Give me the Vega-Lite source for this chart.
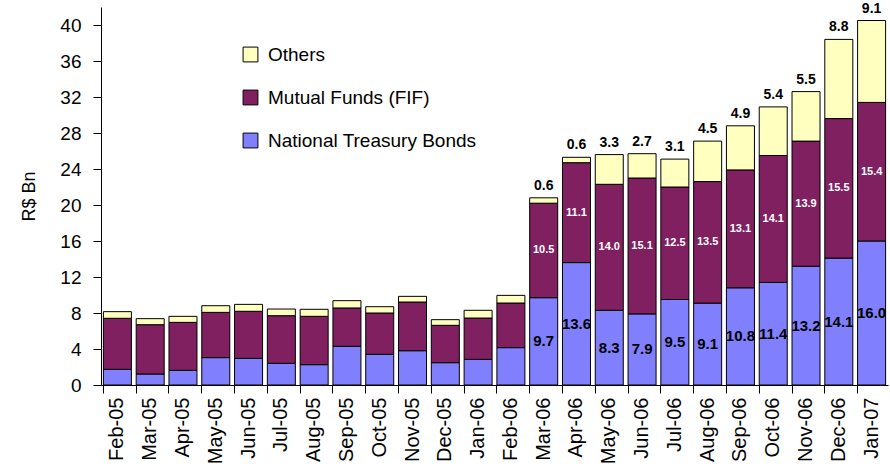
{
  "$schema": "https://vega.github.io/schema/vega-lite/v6.json",
  "width": 787,
  "height": 378,
  "autosize": {"type": "none"},
  "padding": {"left": 101, "top": 7, "right": 2, "bottom": 90},
  "background": "white",
  "config": {
    "view": {"stroke": null},
    "font": "Liberation Sans",
    "axisY": {
      "titleFontSize": 18,
      "titleFontWeight": "normal",
      "titleColor": "black",
      "titleFont": "Liberation Sans",
      "titlePadding": 21,
      "labelOverlap": false,
      "labelFontSize": 19,
      "labelFont": "Liberation Sans",
      "labelColor": "black",
      "tickColor": "black",
      "domainColor": "black",
      "tickSize": 8,
      "labelPadding": 12,
      "grid": false
    }
  },
  "data": {
    "values": [
      {"month": "Feb-05", "National Treasury Bonds": 1.74, "Mutual Funds (FIF)": 5.67, "Others": 0.74},
      {"month": "Mar-05", "National Treasury Bonds": 1.22, "Mutual Funds (FIF)": 5.48, "Others": 0.67},
      {"month": "Apr-05", "National Treasury Bonds": 1.63, "Mutual Funds (FIF)": 5.33, "Others": 0.67},
      {"month": "May-05", "National Treasury Bonds": 3.04, "Mutual Funds (FIF)": 5.03, "Others": 0.74},
      {"month": "Jun-05", "National Treasury Bonds": 2.96, "Mutual Funds (FIF)": 5.23, "Others": 0.77},
      {"month": "Jul-05", "National Treasury Bonds": 2.41, "Mutual Funds (FIF)": 5.29, "Others": 0.74},
      {"month": "Aug-05", "National Treasury Bonds": 2.26, "Mutual Funds (FIF)": 5.37, "Others": 0.78},
      {"month": "Sep-05", "National Treasury Bonds": 4.30, "Mutual Funds (FIF)": 4.26, "Others": 0.81},
      {"month": "Oct-05", "National Treasury Bonds": 3.41, "Mutual Funds (FIF)": 4.59, "Others": 0.70},
      {"month": "Nov-05", "National Treasury Bonds": 3.81, "Mutual Funds (FIF)": 5.41, "Others": 0.63},
      {"month": "Dec-05", "National Treasury Bonds": 2.48, "Mutual Funds (FIF)": 4.15, "Others": 0.63},
      {"month": "Jan-06", "National Treasury Bonds": 2.85, "Mutual Funds (FIF)": 4.59, "Others": 0.86},
      {"month": "Feb-06", "National Treasury Bonds": 4.15, "Mutual Funds (FIF)": 4.96, "Others": 0.85},
      {"month": "Mar-06", "National Treasury Bonds": 9.7, "Mutual Funds (FIF)": 10.5, "Others": 0.6},
      {"month": "Apr-06", "National Treasury Bonds": 13.6, "Mutual Funds (FIF)": 11.1, "Others": 0.6},
      {"month": "May-06", "National Treasury Bonds": 8.3, "Mutual Funds (FIF)": 14.0, "Others": 3.3},
      {"month": "Jun-06", "National Treasury Bonds": 7.9, "Mutual Funds (FIF)": 15.1, "Others": 2.7},
      {"month": "Jul-06", "National Treasury Bonds": 9.5, "Mutual Funds (FIF)": 12.5, "Others": 3.1},
      {"month": "Aug-06", "National Treasury Bonds": 9.1, "Mutual Funds (FIF)": 13.5, "Others": 4.5},
      {"month": "Sep-06", "National Treasury Bonds": 10.8, "Mutual Funds (FIF)": 13.1, "Others": 4.9},
      {"month": "Oct-06", "National Treasury Bonds": 11.4, "Mutual Funds (FIF)": 14.1, "Others": 5.4},
      {"month": "Nov-06", "National Treasury Bonds": 13.2, "Mutual Funds (FIF)": 13.9, "Others": 5.5},
      {"month": "Dec-06", "National Treasury Bonds": 14.1, "Mutual Funds (FIF)": 15.5, "Others": 8.8},
      {"month": "Jan-07", "National Treasury Bonds": 16.0, "Mutual Funds (FIF)": 15.4, "Others": 9.1}
    ]
  },
  "transform": [
    {"fold": ["National Treasury Bonds", "Mutual Funds (FIF)", "Others"], "as": ["series", "value"]},
    {"calculate": "indexof(['National Treasury Bonds','Mutual Funds (FIF)','Others'], datum.series)", "as": "ord"},
    {"stack": "value", "groupby": ["month"], "sort": [{"field": "ord", "order": "ascending"}], "as": ["v0", "v1"]},
    {"calculate": "(datum.v0 + datum.v1) / 2", "as": "mid"}
  ],
  "encoding": {
    "x": {
      "field": "month",
      "type": "nominal",
      "sort": null,
      "scale": {"paddingInner": 0.146, "paddingOuter": 0.073},
      "axis": {
        "title": null,
        "labelAngle": -90,
        "labelFontSize": 20,
        "labelFont": "Liberation Sans",
        "labelColor": "black",
        "tickColor": "black",
        "domainColor": "black",
        "tickSize": 8,
        "labelPadding": 4,
        "bandPosition": 0
      }
    }
  },
  "layer": [
    {
      "mark": {"type": "bar", "stroke": "black", "strokeWidth": 1},
      "encoding": {
        "y": {
          "field": "v0",
          "type": "quantitative",
          "scale": {"domain": [0, 42], "nice": false},
          "axis": {"title": "R$ Bn", "values": [0, 4, 8, 12, 16, 20, 24, 28, 32, 36, 40]}
        },
        "y2": {"field": "v1"},
        "color": {
          "field": "series",
          "type": "nominal",
          "scale": {
            "domain": ["Others", "Mutual Funds (FIF)", "National Treasury Bonds"],
            "range": ["#FFFFC0", "#802060", "#8080FF"]
          },
          "legend": {
            "title": null,
            "orient": "none",
            "legendX": 140,
            "legendY": 38,
            "symbolType": "square",
            "symbolSize": 220,
            "symbolStrokeColor": "black",
            "symbolStrokeWidth": 1,
            "symbolOpacity": 1,
            "labelFontSize": 19,
            "labelFont": "Liberation Sans",
            "labelColor": "black",
            "labelLimit": 0,
            "rowPadding": 23,
            "labelOffset": 8,
            "padding": 0
          }
        }
      }
    },
    {
      "transform": [
        {"filter": {"field": "series", "equal": "National Treasury Bonds"}},
        {"filter": {"field": "month", "oneOf": ["Mar-06", "Apr-06", "May-06", "Jun-06", "Jul-06", "Aug-06", "Sep-06", "Oct-06", "Nov-06", "Dec-06", "Jan-07"]}}
      ],
      "mark": {"type": "text", "fontWeight": "bold", "fontSize": 15, "color": "black", "font": "Liberation Sans"},
      "encoding": {
        "y": {"field": "mid", "type": "quantitative", "axis": {"title": "R$ Bn", "values": [0, 4, 8, 12, 16, 20, 24, 28, 32, 36, 40]}},
        "text": {"field": "value", "type": "quantitative", "format": ".1f"}
      }
    },
    {
      "transform": [
        {"filter": {"field": "series", "equal": "Mutual Funds (FIF)"}},
        {"filter": {"field": "month", "oneOf": ["Mar-06", "Apr-06", "May-06", "Jun-06", "Jul-06", "Aug-06", "Sep-06", "Oct-06", "Nov-06", "Dec-06", "Jan-07"]}}
      ],
      "mark": {"type": "text", "fontWeight": "bold", "fontSize": 11, "color": "white", "font": "Liberation Sans"},
      "encoding": {
        "y": {"field": "mid", "type": "quantitative", "axis": {"title": "R$ Bn", "values": [0, 4, 8, 12, 16, 20, 24, 28, 32, 36, 40]}},
        "text": {"field": "value", "type": "quantitative", "format": ".1f"}
      }
    },
    {
      "transform": [
        {"filter": {"field": "series", "equal": "Others"}},
        {"filter": {"field": "month", "oneOf": ["Mar-06", "Apr-06", "May-06", "Jun-06", "Jul-06", "Aug-06", "Sep-06", "Oct-06", "Nov-06", "Dec-06", "Jan-07"]}}
      ],
      "mark": {"type": "text", "fontWeight": "bold", "fontSize": 14, "color": "black", "font": "Liberation Sans", "dy": -12},
      "encoding": {
        "y": {"field": "v1", "type": "quantitative", "axis": {"title": "R$ Bn", "values": [0, 4, 8, 12, 16, 20, 24, 28, 32, 36, 40]}},
        "text": {"field": "value", "type": "quantitative", "format": ".1f"}
      }
    }
  ]
}
